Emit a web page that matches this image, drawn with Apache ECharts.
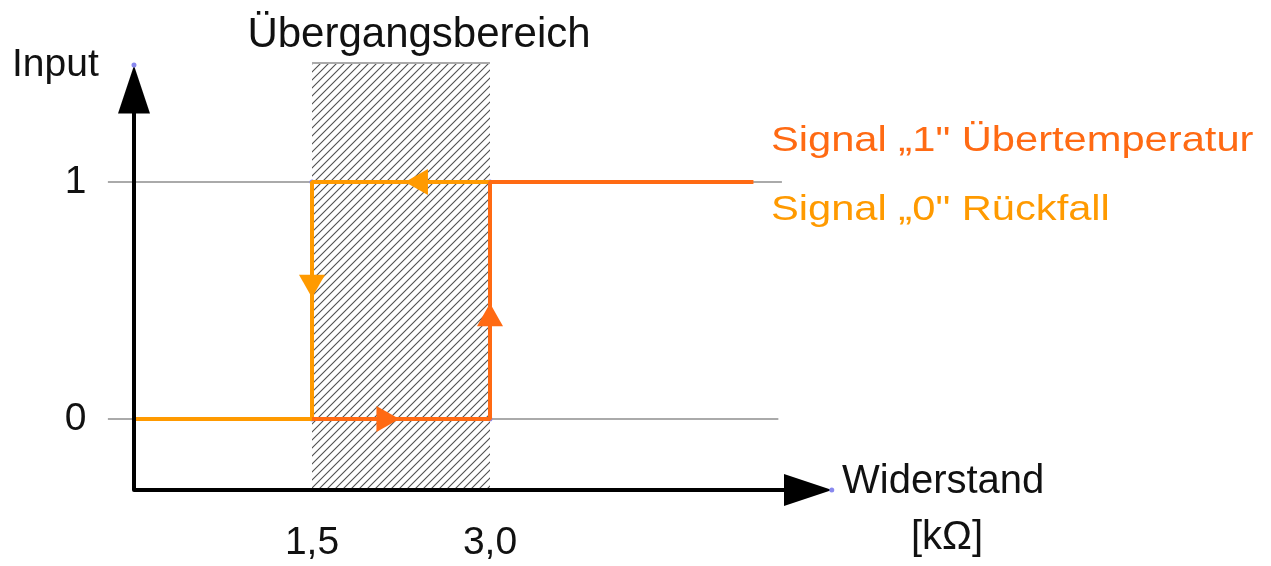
<!DOCTYPE html>
<html>
<head>
<meta charset="utf-8">
<script src="https://cdn.jsdelivr.net/npm/echarts@6/dist/echarts.min.js"></script>
<style>
  html, body { margin: 0; padding: 0; background: #fff; }
  #chart { width: 1271px; height: 566px; }
</style>
</head>
<body>
<div id="chart"></div>
<script>
// Schaltschwellen (x-Achse) und Pegel (y-Achse)
const schwellen = [1.5, 3.0];
const pegel = [0, 1];

// Signalverlauf
const signal1 = [[1.5, 0], [3, 0], [3, 1], [5.22, 1]];      // Übertemperatur
const signal0 = [[3, 1], [1.5, 1], [1.5, 0], [0, 0]];       // Rückfall
// Richtungspfeile auf den Linien [x, y, richtung]
const pfeile1 = [[2.14, 0, 'rechts'], [3, 0.44, 'hoch']];
const pfeile0 = [[2.38, 1, 'links'], [1.5, 0.56, 'runter']];

// Achsen mit Pfeilspitzen
const achsen = [[0, 1.39], [0, -0.3], [5.68, -0.3]];
const achsPfeile = [[0, 1.39, 'hoch'], [5.68, -0.3, 'rechts']];
// Hilfslinien
const hilfslinienY = [[-0.22, 5.46, 1], [-0.22, 5.43, 0]];
const bereich = [1.5, 3.0, -0.3, 1.502];
const punkte = [[1.5, 1], [3, 1], [1.5, 0], [3, 0], [0, 1.494], [5.88, -0.3]];

const drehung = { hoch: 0, runter: 180, links: 90, rechts: -90 };
const dunkelOrange = '#ff6a13';
const hellOrange = '#ff9a00';
const schrift = 'Liberation Sans, Arial, sans-serif';

function schraffur() {
  const c = document.createElement('canvas');
  c.width = c.height = 8;
  const g = c.getContext('2d');
  g.strokeStyle = '#505050';
  g.lineWidth = 1.1;
  g.beginPath();
  g.moveTo(0, 8); g.lineTo(8, 0);
  g.moveTo(-1, 1); g.lineTo(1, -1);
  g.moveTo(7, 9); g.lineTo(9, 7);
  g.stroke();
  return c;
}

function text(t, x, y, size, color, align, sx) {
  return {
    type: 'text',
    x: x,
    y: y,
    scaleX: sx || 1,
    silent: true,
    style: {
      text: t,
      fontSize: size,
      fill: color,
      fontFamily: schrift,
      align: align,
      verticalAlign: 'middle'
    }
  };
}

const chart = echarts.init(document.getElementById('chart'));

const option = {
  animation: false,
  grid: { left: 104.33, right: 425, top: 39.8, bottom: 52.2 },
  xAxis: {
    type: 'value',
    min: -0.25,
    max: 6,
    axisLine: { show: false },
    axisTick: { show: false },
    splitLine: { show: false },
    axisLabel: {
      customValues: schwellen,
      formatter: v => v.toFixed(1).replace('.', ','),
      fontSize: 39,
      margin: 10,
      color: '#111',
      fontFamily: schrift
    }
  },
  yAxis: {
    type: 'value',
    min: -0.4,
    max: 1.6,
    axisLine: { show: false },
    axisTick: { show: false },
    splitLine: { show: false },
    axisLabel: {
      customValues: pegel,
      fontSize: 39,
      margin: 18,
      padding: [0, 0, 12, 0],
      color: '#111',
      fontFamily: schrift
    }
  },
  graphic: [
    text('Input', 12, 65, 39, '#111', 'left'),
    text('Widerstand', 842, 482, 40, '#111', 'left'),
    text('[kΩ]', 947, 538, 40, '#111', 'center'),
    text('Signal „1" Übertemperatur', 771, 141, 35, dunkelOrange, 'left', 1.19),
    text('Signal „0" Rückfall', 771, 210, 35, hellOrange, 'left', 1.19)
  ],
  series: [
    {
      // Übergangsbereich + graue Hilfslinien
      type: 'line',
      data: [],
      silent: true,
      markArea: {
        silent: true,
        z: 0,
        itemStyle: { color: { image: schraffur(), repeat: 'repeat' } },
        label: {
          show: true,
          position: 'top',
          distance: 7,
          offset: [18, 0],
          formatter: 'Übergangsbereich',
          fontSize: 42,
          color: '#111',
          fontFamily: schrift
        },
        data: [[{ coord: [bereich[0], bereich[2]] }, { coord: [bereich[1], bereich[3]] }]]
      },
      markLine: {
        silent: true,
        z: 1,
        symbol: 'none',
        label: { show: false },
        lineStyle: { color: '#aaaaaa', width: 2, type: 'solid' },
        data: hilfslinienY.map(h => [{ coord: [h[0], h[2]] }, { coord: [h[1], h[2]] }])
          .concat(schwellen.map(s => [{ coord: [s, -0.41] }, { coord: [s, bereich[3]] }]))
          .concat([[{ coord: [bereich[0], bereich[3]] }, { coord: [bereich[1], bereich[3]] }]])
      }
    },
    {
      name: 'Signal „0" Rückfall',
      type: 'line',
      data: signal0,
      symbol: 'none',
      lineStyle: { color: hellOrange, width: 4 },
      itemStyle: { color: hellOrange }
    },
    {
      name: 'Signal „1" Übertemperatur',
      type: 'line',
      data: signal1,
      symbol: 'none',
      lineStyle: { color: dunkelOrange, width: 4 },
      itemStyle: { color: dunkelOrange }
    },
    {
      type: 'line',
      data: achsen,
      symbol: 'none',
      lineStyle: { color: '#000', width: 4, join: 'round' }
    },
    {
      type: 'scatter',
      silent: true,
      symbol: 'triangle',
      data: achsPfeile.map(p => ({
        value: [p[0], p[1]],
        symbolRotate: drehung[p[2]],
        symbolSize: [32, 48],
        itemStyle: { color: '#000', opacity: 1 }
      })).concat(pfeile1.map(p => ({
        value: [p[0], p[1]],
        symbolRotate: drehung[p[2]],
        symbolSize: [26, 23],
        itemStyle: { color: dunkelOrange, opacity: 1 }
      }))).concat(pfeile0.map(p => ({
        value: [p[0], p[1]],
        symbolRotate: drehung[p[2]],
        symbolSize: [26, 23],
        itemStyle: { color: hellOrange, opacity: 1 }
      })))
    },
    {
      type: 'scatter',
      silent: true,
      symbol: 'circle',
      symbolSize: 5,
      itemStyle: { color: '#8888ee', opacity: 1 },
      data: punkte
    }
  ]
};

chart.setOption(option);
</script>
</body>
</html>
